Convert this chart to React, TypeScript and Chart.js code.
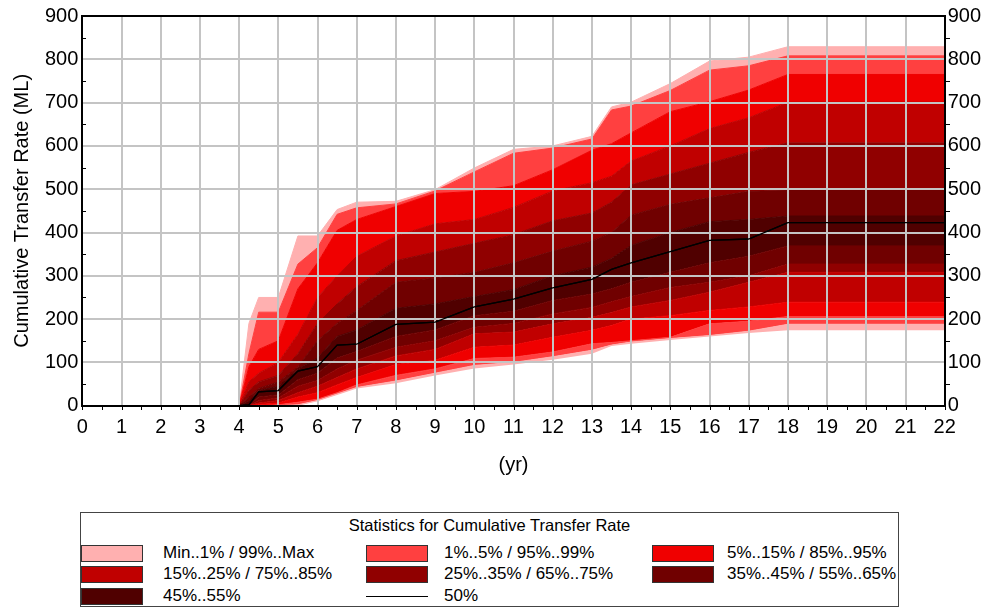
import React, { useEffect, useRef } from 'react';
import { Chart, registerables } from 'chart.js';

Chart.register(...registerables);

// time (yr)
const years = [0, 4, 4.25, 4.5, 5, 5.5, 6, 6.5, 7, 8, 9, 10, 11, 12, 13, 13.5, 14, 15, 16, 17, 18, 22];

// percentile curves of Cumulative Transfer Rate (ML)
const pMax = [0, 0, 190, 250, 250, 392, 392, 453, 470, 472, 499, 549, 592, 600, 622, 690, 701, 744, 796, 805, 829, 829];
const p99 = [0, 0, 120, 216, 216, 327, 365, 442, 457, 466, 496, 540, 583, 595, 616, 683, 692, 728, 775, 785, 808, 808];
const p95 = [0, 0, 90, 130, 150, 270, 330, 405, 430, 460, 490, 495, 508, 545, 590, 605, 630, 679, 702, 729, 765, 765];
const p85 = [0, 0, 55, 75, 100, 165, 250, 300, 345, 392, 420, 430, 458, 496, 515, 530, 565, 600, 640, 665, 701, 701];
const p75 = [0, 0, 35, 55, 70, 120, 190, 235, 275, 335, 355, 375, 395, 427, 445, 470, 510, 535, 560, 585, 607, 607];
const p65 = [0, 0, 20, 40, 55, 90, 150, 190, 220, 285, 295, 308, 330, 357, 380, 400, 440, 465, 480, 495, 497, 497];
const p55 = [0, 0, 10, 35, 45, 85, 110, 160, 175, 225, 235, 252, 268, 300, 320, 340, 370, 400, 425, 430, 438, 438];
const p50 = [0, 0, 2, 32, 35, 80, 90, 140, 142, 188, 193, 228, 246, 272, 292, 315, 330, 356, 382, 385, 423, 423];
const p45 = [0, 0, 0, 20, 25, 60, 75, 110, 125, 160, 175, 208, 218, 243, 258, 270, 285, 308, 330, 345, 369, 369];
const p35 = [0, 0, 0, 12, 18, 45, 58, 85, 105, 135, 150, 181, 190, 212, 227, 240, 252, 273, 285, 300, 327, 327];
const p25 = [0, 0, 0, 6, 12, 30, 45, 65, 85, 115, 130, 166, 170, 189, 204, 215, 228, 243, 262, 285, 308, 308];
const p15 = [0, 0, 0, 3, 6, 20, 30, 48, 65, 95, 105, 135, 140, 158, 174, 185, 200, 208, 220, 228, 239, 239];
const p5 = [0, 0, 0, 0, 2, 8, 15, 30, 48, 70, 85, 109, 112, 124, 143, 146, 150, 158, 189, 195, 206, 206];
const p1 = [0, 0, 0, 0, 0, 2, 12, 27, 42, 57, 75, 93, 100, 113, 128, 140, 147, 155, 162, 172, 188, 188];
const pMin = [0, 0, 0, 0, 0, 0, 10, 25, 40, 52, 70, 86, 95, 106, 120, 138, 143, 152, 160, 168, 174, 174];

// axis ticks
const xTicks = [0, 22, 1];
const yTicks = [0, 900, 100];

// legend
const legendTitle = 'Statistics for Cumulative Transfer Rate';
const legendLabels = [
  'Min..1% / 99%..Max',
  '1%..5% / 95%..99%',
  '5%..15% / 85%..95%',
  '15%..25% / 75%..85%',
  '25%..35% / 65%..75%',
  '35%..45% / 55%..65%',
  '45%..55%',
  '50%',
];
const bandColors = ['#ffb0b0', '#ff4040', '#f00000', '#c00000', '#900000', '#700000', '#500000'];

const FONT = '"Liberation Sans", Arial, sans-serif';

export default function App() {
  const canvasRef = useRef<HTMLCanvasElement | null>(null);

  useEffect(() => {
    const curves = [pMin, p1, p5, p15, p25, p35, p45, p55, p65, p75, p85, p95, p99, pMax];
    const bandOf = [0, 1, 2, 3, 4, 5, 6, 5, 4, 3, 2, 1, 0];
    const toPts = (arr: number[]) => years.map((t, i) => ({ x: t, y: arr[i] }));

    const datasets: any[] = curves.map((c, i) => {
      const col = i === 0 ? bandColors[0] : bandColors[bandOf[i - 1]];
      return {
        data: toPts(c),
        borderColor: col,
        backgroundColor: col,
        borderWidth: i === 0 ? 0 : 1,
        pointRadius: 0,
        fill: i === 0 ? false : '-1',
        tension: 0,
      };
    });
    datasets.push({
      data: toPts(p50),
      borderColor: '#000',
      borderWidth: 1.3,
      pointRadius: 0,
      fill: false,
      order: -1,
    });

    const plugin = {
      id: 'frameTicks',
      afterDraw(chart: any) {
        const { ctx, chartArea } = chart;
        const { left, top, right, bottom } = chartArea;
        const meta = chart.getDatasetMeta(datasets.length - 1);
        ctx.save();
        ctx.beginPath();
        ctx.rect(left, top, right - left, bottom - top);
        ctx.clip();
        meta.dataset.draw(ctx, chartArea);
        ctx.restore();

        ctx.save();
        ctx.strokeStyle = '#000';
        ctx.lineWidth = 2;
        const L = Math.round(left), T = Math.round(top), R = Math.round(right), B = Math.round(bottom);
        ctx.strokeRect(L, T, R - L, B - T);
        ctx.lineWidth = 1;
        ctx.beginPath();
        const ys = chart.scales.y, xs = chart.scales.x;
        for (let v = yTicks[0] + yTicks[2] / 2; v < yTicks[1]; v += yTicks[2]) {
          const py = Math.round(ys.getPixelForValue(v)) + 0.5;
          ctx.moveTo(L, py); ctx.lineTo(L + 4, py);
          ctx.moveTo(R, py); ctx.lineTo(R + 5, py);
        }
        for (let t = xTicks[0]; t <= xTicks[1]; t += xTicks[2] / 2) {
          const px = Math.round(xs.getPixelForValue(t)) + 0.5;
          ctx.moveTo(px, B); ctx.lineTo(px, B + 4);
        }
        ctx.stroke();
        ctx.restore();
      },
    };

    const tickFont = { family: FONT, size: 20 };
    const chart = new Chart(canvasRef.current as HTMLCanvasElement, {
      type: 'line',
      data: { datasets },
      plugins: [plugin],
      options: {
        animation: false,
        responsive: false,
        devicePixelRatio: 1,
        layout: { padding: { top: 14, left: 0, right: 0, bottom: 0 } },
        plugins: { legend: { display: false }, tooltip: { enabled: false } },
        elements: { line: { tension: 0 } },
        scales: {
          x: {
            type: 'linear',
            min: xTicks[0],
            max: xTicks[1],
            ticks: { stepSize: xTicks[2], color: '#000', font: tickFont, padding: 10, maxRotation: 0, autoSkip: false },
            grid: { color: '#c4c4c4', lineWidth: 2, drawTicks: false, z: 1 },
            border: { display: false },
            title: { display: true, text: '(yr)', color: '#000', font: tickFont, padding: { top: 0, bottom: 3 } },
            afterFit: (s: any) => { s.height = 74.3; },
          },
          y: {
            type: 'linear',
            position: 'left',
            min: yTicks[0],
            max: yTicks[1],
            ticks: { stepSize: yTicks[2], color: '#000', font: tickFont, padding: 4 },
            grid: { color: '#c4c4c4', lineWidth: 2, drawTicks: false, z: 1 },
            border: { display: false },
            title: { display: true, text: 'Cumulative Transfer Rate (ML)', color: '#000', font: tickFont, padding: { top: 10, bottom: 0 } },
            afterFit: (s: any) => { s.width = 82.3; },
          },
          y2: {
            type: 'linear',
            position: 'right',
            min: yTicks[0],
            max: yTicks[1],
            ticks: { stepSize: yTicks[2], color: '#000', font: tickFont, padding: 3 },
            grid: { display: false, drawTicks: false },
            border: { display: false },
            afterFit: (s: any) => { s.width = 44.3; },
          },
        },
      } as any,
    });
    return () => chart.destroy();
  }, []);

  const cols = [81, 366, 652];
  const textX = [163, 444, 727];
  const rows = [553, 574, 596];
  const items = legendLabels.map((lab, i) => {
    const c = i % 3;
    const r = Math.floor(i / 3);
    return { lab, x: cols[c], tx: textX[c], y: rows[r], color: i < 7 ? bandColors[i] : null };
  });

  return (
    <div style={{ position: 'absolute', left: 0, top: 0, width: 989, height: 610, background: '#fff', fontFamily: FONT }}>
      <canvas ref={canvasRef} width={989} height={480} style={{ position: 'absolute', left: 0, top: 0, width: 989, height: 480 }} />
      <div style={{ position: 'absolute', left: 80, top: 512, width: 819, height: 95, border: '1px solid #444', boxSizing: 'border-box' }} />
      <div style={{ position: 'absolute', left: 80, width: 819, top: 514, textAlign: 'center', fontSize: 16.5, lineHeight: '22px', color: '#000' }}>
        {legendTitle}
      </div>
      {items.map((it, i) => (
        <React.Fragment key={i}>
          {it.color ? (
            <div style={{ position: 'absolute', left: it.x, top: it.y - 8, width: 62, height: 17, background: it.color, border: '1px solid #333', boxSizing: 'border-box' }} />
          ) : (
            <div style={{ position: 'absolute', left: it.x, top: it.y, width: 62, height: 1, background: '#000' }} />
          )}
          <div style={{ position: 'absolute', left: it.tx, top: it.y - 11, fontSize: 17, lineHeight: '22px', whiteSpace: 'nowrap', color: '#000' }}>
            {it.lab}
          </div>
        </React.Fragment>
      ))}
    </div>
  );
}
